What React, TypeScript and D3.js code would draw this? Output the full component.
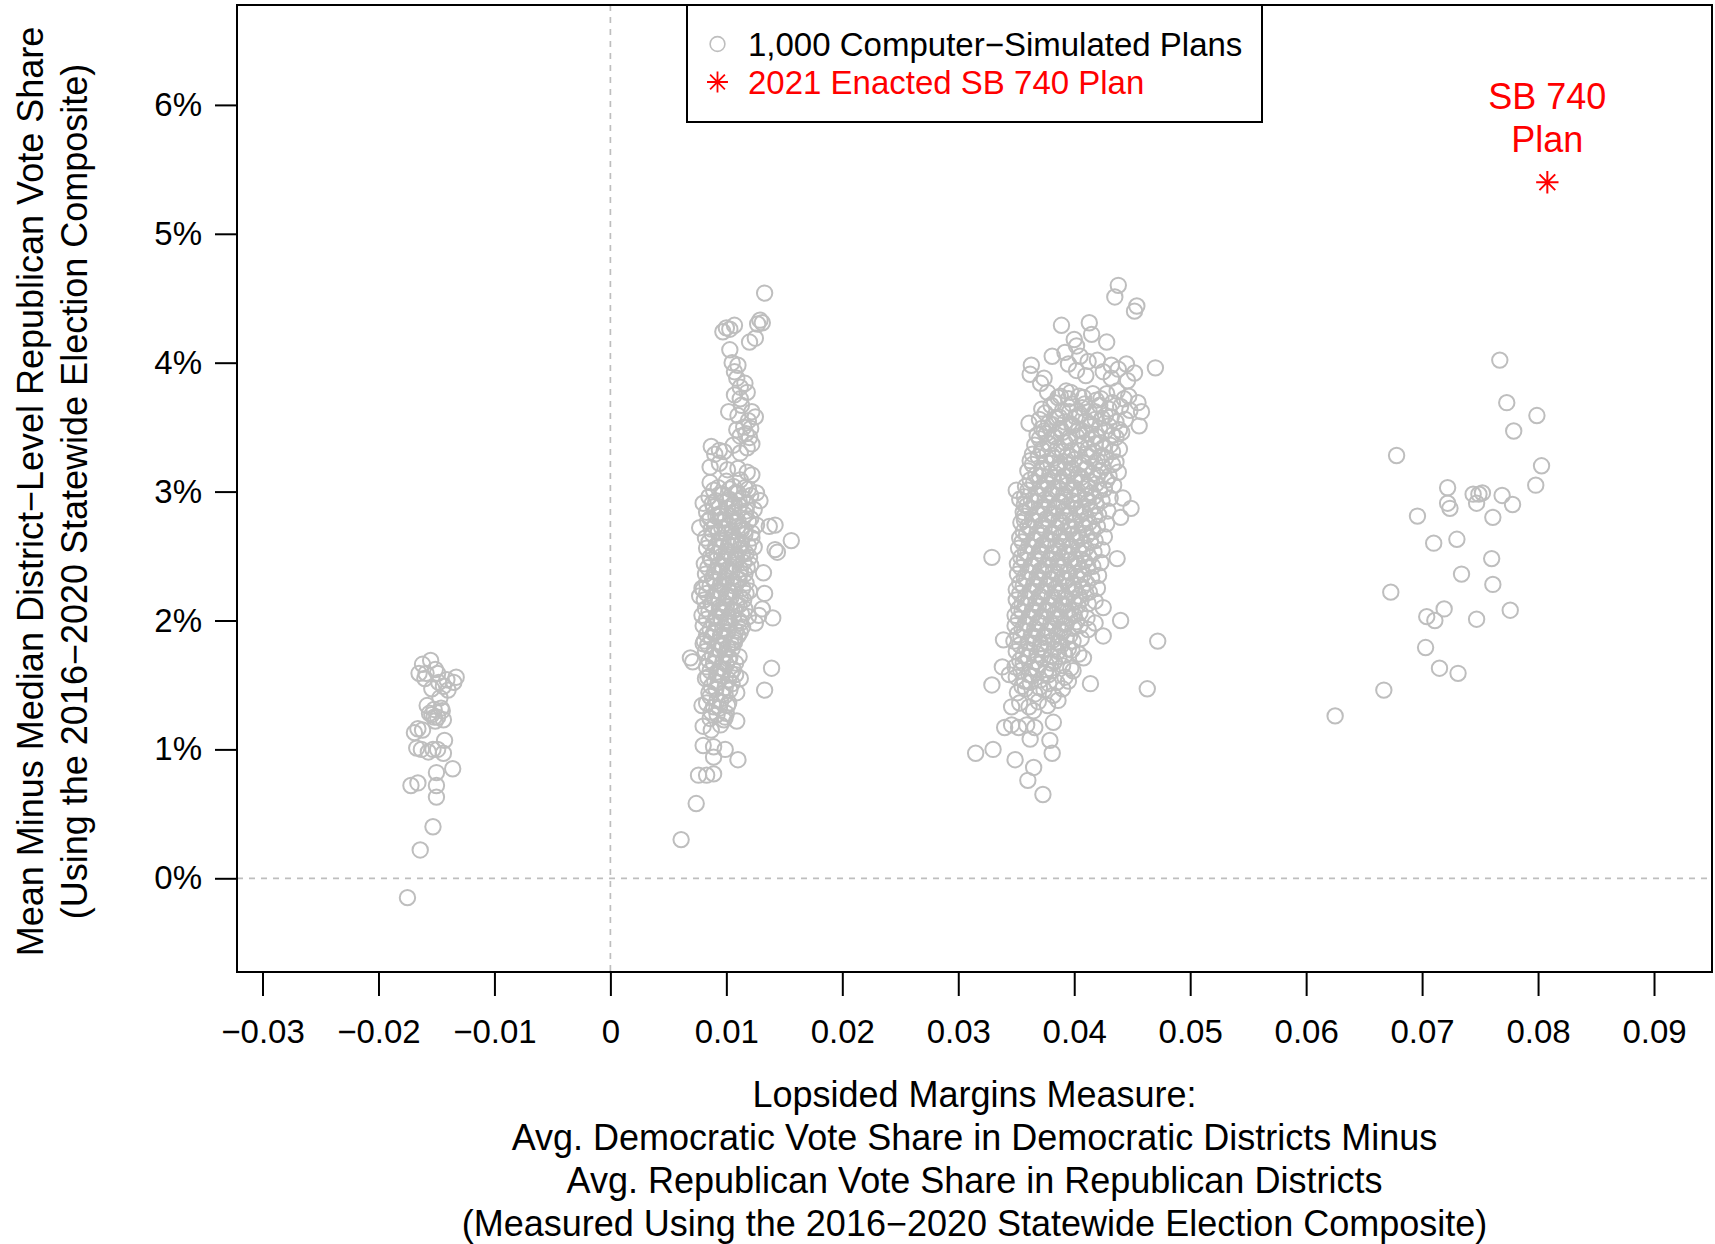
import { useEffect, useRef } from 'react';
import * as d3 from 'd3';

// x = lopsided margins measure, y = mean minus median (in %)
const plansNeg: [number, number][] = [
  [-0.0162, 1.66], [-0.0155, 1.69], [-0.0151, 1.62], [-0.0165, 1.59], [-0.0159, 1.59], [-0.0149, 1.59],
  [-0.0141, 1.54], [-0.0133, 1.56], [-0.0135, 1.52], [-0.0144, 1.49], [-0.0154, 1.47], [-0.0140, 1.46],
  [-0.0147, 1.40], [-0.0158, 1.34], [-0.0152, 1.31], [-0.0146, 1.32], [-0.0156, 1.28], [-0.0149, 1.25],
  [-0.0151, 1.22], [-0.0144, 1.23], [-0.0166, 1.16], [-0.0169, 1.13], [-0.0162, 1.15], [-0.0143, 1.07],
  [-0.0163, 1.00], [-0.0157, 0.98], [-0.0153, 1.00], [-0.0149, 1.00], [-0.0144, 0.97], [-0.0167, 1.01],
  [-0.0136, 0.85], [-0.0150, 0.82], [-0.0166, 0.74], [-0.0172, 0.72], [-0.0150, 0.72], [-0.0150, 0.63],
  [-0.0153, 0.40], [-0.0164, 0.22], [-0.0175, -0.15], [-0.0154, 1.27], [-0.0160, 1.55], [-0.0148, 1.52],
  [-0.0152, 1.25], [-0.0145, 1.30],
];

const plansLow: [number, number][] = [
  // upper tail
  [0.0133, 4.54], [0.0129, 4.33], [0.0131, 4.31], [0.0127, 4.30], [0.0125, 4.19], [0.0120, 4.16],
  [0.0100, 4.27], [0.0107, 4.29], [0.0097, 4.24], [0.0103, 4.26], [0.0103, 4.10], [0.0105, 4.00],
  [0.0110, 3.98], [0.0107, 3.93], [0.0109, 3.88], [0.0112, 3.81], [0.0116, 3.84], [0.0107, 3.75],
  [0.0112, 3.72], [0.0118, 3.77], [0.0113, 3.67], [0.0102, 3.62], [0.0122, 3.62], [0.0125, 3.58],
  [0.0110, 3.59], [0.0119, 3.55], [0.0109, 3.48], [0.0115, 3.50], [0.0121, 3.49], [0.0117, 3.45],
  [0.0112, 3.43], [0.0120, 3.42], [0.0087, 3.35], [0.0094, 3.32], [0.0090, 3.29], [0.0098, 3.31],
  [0.0106, 3.36], [0.0112, 3.30], [0.0118, 3.34], [0.0122, 3.37], [0.0086, 3.19], [0.0094, 3.22],
  [0.0101, 3.17], [0.0110, 3.18], [0.0118, 3.15], [0.0122, 3.13],
  // right and left strays
  [0.0126, 2.99], [0.0129, 2.93], [0.0142, 2.74], [0.0137, 2.73], [0.0156, 2.62], [0.0142, 2.55],
  [0.0144, 2.53], [0.0132, 2.37], [0.0133, 2.21], [0.0140, 2.02], [0.0131, 2.09], [0.0128, 2.04],
  [0.0125, 1.98], [0.0139, 1.63], [0.0133, 1.46], [0.0112, 1.55], [0.0080, 2.91], [0.0077, 2.72],
  [0.0077, 2.19], [0.0079, 2.25], [0.0080, 1.82], [0.0069, 1.71], [0.0071, 1.68], [0.0082, 1.55],
  [0.0079, 1.34], [0.0080, 1.18], [0.0080, 1.03],
  // lower tail
  [0.0109, 1.22], [0.0110, 0.92], [0.0087, 1.15], [0.0095, 1.19], [0.0099, 1.25], [0.0102, 1.36],
  [0.0109, 1.44], [0.0089, 1.02], [0.0099, 1.00], [0.0089, 0.94], [0.0076, 0.80], [0.0083, 0.80],
  [0.0089, 0.81], [0.0074, 0.58], [0.0061, 0.30],
  // core
  [0.0086, 3.07], [0.0093, 3.03], [0.0100, 3.08], [0.0106, 3.04], [0.0112, 3.09], [0.0119, 3.02],
  [0.0085, 2.96], [0.0091, 2.93], [0.0097, 2.98], [0.0103, 2.94], [0.0108, 2.99], [0.0114, 2.95], [0.0121, 2.97],
  [0.0083, 2.84], [0.0089, 2.88], [0.0095, 2.83], [0.0101, 2.87], [0.0106, 2.84], [0.0111, 2.89], [0.0117, 2.85], [0.0124, 2.86],
  [0.0084, 2.77], [0.0090, 2.73], [0.0096, 2.78], [0.0102, 2.74], [0.0107, 2.76], [0.0113, 2.72], [0.0119, 2.77], [0.0126, 2.74],
  [0.0082, 2.64], [0.0088, 2.67], [0.0094, 2.63], [0.0099, 2.68], [0.0105, 2.65], [0.0110, 2.62], [0.0116, 2.67], [0.0122, 2.64],
  [0.0083, 2.56], [0.0089, 2.53], [0.0095, 2.57], [0.0100, 2.54], [0.0106, 2.58], [0.0111, 2.55], [0.0117, 2.52], [0.0124, 2.57],
  [0.0081, 2.44], [0.0087, 2.47], [0.0093, 2.43], [0.0098, 2.46], [0.0104, 2.42], [0.0109, 2.48], [0.0115, 2.45], [0.0121, 2.43],
  [0.0082, 2.36], [0.0088, 2.33], [0.0094, 2.37], [0.0099, 2.34], [0.0105, 2.38], [0.0110, 2.32], [0.0116, 2.36],
  [0.0080, 2.24], [0.0086, 2.27], [0.0092, 2.23], [0.0097, 2.26], [0.0103, 2.22], [0.0108, 2.28], [0.0114, 2.25], [0.0120, 2.23],
  [0.0081, 2.16], [0.0087, 2.13], [0.0093, 2.17], [0.0098, 2.14], [0.0104, 2.18], [0.0109, 2.12], [0.0115, 2.16],
  [0.0079, 2.04], [0.0085, 2.07], [0.0091, 2.03], [0.0096, 2.06], [0.0102, 2.02], [0.0107, 2.08], [0.0113, 2.05], [0.0119, 2.03],
  [0.0080, 1.96], [0.0086, 1.93], [0.0092, 1.97], [0.0097, 1.94], [0.0103, 1.98], [0.0108, 1.92], [0.0114, 1.95],
  [0.0081, 1.84], [0.0087, 1.87], [0.0093, 1.83], [0.0098, 1.86], [0.0104, 1.82], [0.0110, 1.88],
  [0.0082, 1.76], [0.0088, 1.73], [0.0094, 1.77], [0.0099, 1.74], [0.0105, 1.78], [0.0111, 1.72],
  [0.0083, 1.64], [0.0089, 1.67], [0.0095, 1.63], [0.0100, 1.66], [0.0106, 1.62],
  [0.0084, 1.56], [0.0090, 1.53], [0.0096, 1.57], [0.0102, 1.54], [0.0108, 1.58],
  [0.0085, 1.44], [0.0091, 1.47], [0.0097, 1.43], [0.0103, 1.46],
  [0.0083, 1.36], [0.0089, 1.33], [0.0095, 1.37], [0.0101, 1.34],
  [0.0086, 1.24], [0.0092, 1.27], [0.0098, 1.23],
  [0.0091, 2.81], [0.0099, 2.71], [0.0104, 2.61], [0.0096, 2.50], [0.0102, 2.40], [0.0090, 2.30],
  [0.0100, 2.20], [0.0094, 2.10], [0.0101, 2.00], [0.0089, 1.90], [0.0096, 1.80], [0.0102, 1.70],
  [0.0092, 1.60], [0.0107, 2.90], [0.0113, 2.70], [0.0108, 2.50], [0.0112, 2.40], [0.0106, 2.30],
  [0.0111, 2.00], [0.0107, 1.85],
  // core, second pass
  [0.0089, 3.01], [0.0096, 2.98], [0.0103, 3.02], [0.0110, 2.99], [0.0116, 3.03],
  [0.0088, 2.91], [0.0094, 2.88], [0.0100, 2.92], [0.0105, 2.89], [0.0111, 2.93], [0.0118, 2.90],
  [0.0086, 2.79], [0.0093, 2.82], [0.0099, 2.78], [0.0104, 2.81], [0.0110, 2.77], [0.0116, 2.82], [0.0121, 2.79],
  [0.0087, 2.71], [0.0093, 2.68], [0.0096, 2.72], [0.0105, 2.69], [0.0110, 2.73], [0.0116, 2.70], [0.0122, 2.68],
  [0.0085, 2.61], [0.0091, 2.58], [0.0097, 2.62], [0.0102, 2.59], [0.0108, 2.63], [0.0113, 2.60], [0.0119, 2.58],
  [0.0086, 2.49], [0.0092, 2.52], [0.0098, 2.48], [0.0103, 2.51], [0.0109, 2.47], [0.0114, 2.52], [0.0120, 2.49],
  [0.0084, 2.41], [0.0090, 2.38], [0.0096, 2.42], [0.0101, 2.39], [0.0107, 2.43], [0.0112, 2.37], [0.0118, 2.41],
  [0.0083, 2.29], [0.0089, 2.32], [0.0095, 2.28], [0.0100, 2.31], [0.0106, 2.27], [0.0111, 2.32], [0.0117, 2.29],
  [0.0083, 2.21], [0.0089, 2.18], [0.0095, 2.22], [0.0101, 2.19], [0.0106, 2.23], [0.0112, 2.18], [0.0117, 2.21],
  [0.0082, 2.09], [0.0088, 2.12], [0.0094, 2.08], [0.0100, 2.11], [0.0105, 2.07], [0.0111, 2.12], [0.0116, 2.09],
  [0.0083, 2.01], [0.0089, 1.98], [0.0095, 2.02], [0.0100, 1.99], [0.0106, 2.03], [0.0112, 1.98],
  [0.0083, 1.89], [0.0090, 1.92], [0.0095, 1.88], [0.0101, 1.91], [0.0107, 1.87], [0.0112, 1.91],
  [0.0084, 1.81], [0.0090, 1.78], [0.0096, 1.82], [0.0101, 1.79], [0.0107, 1.83],
  [0.0085, 1.69], [0.0091, 1.72], [0.0097, 1.68], [0.0103, 1.71], [0.0108, 1.67],
  [0.0086, 1.61], [0.0092, 1.58], [0.0098, 1.62], [0.0104, 1.59],
  [0.0087, 1.49], [0.0093, 1.52], [0.0099, 1.48], [0.0105, 1.51],
  [0.0086, 1.41], [0.0092, 1.38], [0.0099, 1.42],
  [0.0087, 1.29], [0.0094, 1.32], [0.0100, 1.28],
];

const plansMid: [number, number][] = [
  // top and edges
  [0.0438, 4.60], [0.0435, 4.51], [0.0454, 4.44], [0.0452, 4.40], [0.0389, 4.29], [0.0413, 4.31],
  [0.0415, 4.22], [0.0400, 4.18], [0.0402, 4.13], [0.0428, 4.16], [0.0392, 4.08], [0.0405, 4.05],
  [0.0381, 4.05], [0.0363, 3.98], [0.0362, 3.91], [0.0371, 3.84], [0.0374, 3.88], [0.0470, 3.96],
  [0.0395, 3.99], [0.0412, 4.01], [0.0420, 4.02], [0.0432, 3.98], [0.0438, 3.95], [0.0445, 3.99],
  [0.0452, 3.92], [0.0446, 3.86], [0.0402, 3.94], [0.0410, 3.90], [0.0425, 3.93], [0.0432, 3.88],
  [0.0388, 3.74], [0.0397, 3.77], [0.0408, 3.73], [0.0428, 3.76], [0.0443, 3.72], [0.0455, 3.69],
  [0.0458, 3.62], [0.0361, 3.53], [0.0456, 3.51], [0.0385, 3.57], [0.0405, 3.60], [0.0418, 3.56],
  [0.0432, 3.58], [0.0448, 3.63], [0.0376, 3.45], [0.0388, 3.49], [0.0398, 3.52], [0.0350, 3.01],
  [0.0353, 2.94], [0.0357, 2.90], [0.0357, 2.78], [0.0449, 2.87], [0.0442, 2.95], [0.0440, 2.80],
  [0.0329, 2.49], [0.0437, 2.48], [0.0472, 1.84], [0.0463, 1.47], [0.0414, 1.51], [0.0440, 2.00],
  [0.0425, 2.10], [0.0418, 1.98], [0.0425, 1.88], [0.0408, 1.71], [0.0399, 1.61], [0.0395, 1.53],
  [0.0339, 1.85], [0.0329, 1.50], [0.0338, 1.64], [0.0344, 1.58], [0.0346, 1.33], [0.0365, 1.30],
  [0.0340, 1.17], [0.0346, 1.19], [0.0352, 1.17], [0.0359, 1.19], [0.0366, 1.17], [0.0315, 0.97],
  [0.0330, 1.00], [0.0349, 0.92], [0.0362, 1.08], [0.0382, 1.21], [0.0381, 0.97], [0.0379, 1.07],
  [0.0365, 0.86], [0.0360, 0.76], [0.0373, 0.65],
  // core
  [0.0377, 3.77], [0.0386, 3.73], [0.0393, 3.78], [0.0404, 3.74], [0.0416, 3.76], [0.0423, 3.72], [0.0437, 3.78], [0.0447, 3.74],
  [0.0372, 3.64], [0.0380, 3.67], [0.0390, 3.63], [0.0398, 3.68], [0.0407, 3.65], [0.0413, 3.62], [0.0422, 3.67], [0.0430, 3.64], [0.0440, 3.66],
  [0.0370, 3.56], [0.0378, 3.53], [0.0384, 3.57], [0.0392, 3.54], [0.0401, 3.58], [0.0410, 3.55], [0.0415, 3.52], [0.0424, 3.57], [0.0436, 3.54], [0.0444, 3.56],
  [0.0368, 3.44], [0.0374, 3.47], [0.0382, 3.43], [0.0390, 3.46], [0.0396, 3.42], [0.0404, 3.48], [0.0411, 3.45], [0.0419, 3.43], [0.0427, 3.47], [0.0433, 3.44], [0.0441, 3.46],
  [0.0366, 3.36], [0.0372, 3.33], [0.0379, 3.37], [0.0386, 3.34], [0.0392, 3.38], [0.0398, 3.32], [0.0405, 3.36], [0.0412, 3.33], [0.0418, 3.37], [0.0425, 3.34], [0.0431, 3.36], [0.0439, 3.33],
  [0.0362, 3.24], [0.0369, 3.27], [0.0376, 3.23], [0.0383, 3.26], [0.0388, 3.22], [0.0394, 3.28], [0.0400, 3.25], [0.0407, 3.23], [0.0413, 3.27], [0.0420, 3.24], [0.0427, 3.26], [0.0436, 3.23],
  [0.0360, 3.16], [0.0367, 3.13], [0.0373, 3.17], [0.0379, 3.14], [0.0385, 3.18], [0.0391, 3.12], [0.0397, 3.16], [0.0403, 3.13], [0.0409, 3.17], [0.0416, 3.14], [0.0423, 3.16], [0.0430, 3.12], [0.0438, 3.15],
  [0.0358, 3.04], [0.0365, 3.07], [0.0371, 3.03], [0.0377, 3.06], [0.0383, 3.02], [0.0389, 3.08], [0.0394, 3.05], [0.0400, 3.03], [0.0406, 3.07], [0.0412, 3.04], [0.0419, 3.06], [0.0426, 3.02], [0.0434, 3.05],
  [0.0357, 2.96], [0.0363, 2.93], [0.0369, 2.97], [0.0375, 2.94], [0.0381, 2.98], [0.0387, 2.92], [0.0392, 2.96], [0.0398, 2.93], [0.0404, 2.97], [0.0410, 2.94], [0.0417, 2.96], [0.0424, 2.93], [0.0431, 2.95],
  [0.0356, 2.84], [0.0362, 2.87], [0.0368, 2.83], [0.0374, 2.86], [0.0380, 2.82], [0.0385, 2.88], [0.0391, 2.85], [0.0396, 2.83], [0.0402, 2.87], [0.0408, 2.84], [0.0414, 2.86], [0.0421, 2.82], [0.0429, 2.85],
  [0.0354, 2.76], [0.0360, 2.73], [0.0366, 2.77], [0.0372, 2.74], [0.0378, 2.78], [0.0384, 2.72], [0.0389, 2.76], [0.0395, 2.73], [0.0401, 2.77], [0.0407, 2.74], [0.0413, 2.76], [0.0420, 2.73], [0.0428, 2.75],
  [0.0353, 2.64], [0.0359, 2.67], [0.0365, 2.63], [0.0371, 2.66], [0.0377, 2.62], [0.0382, 2.68], [0.0388, 2.65], [0.0393, 2.63], [0.0399, 2.67], [0.0405, 2.64], [0.0411, 2.66], [0.0418, 2.62], [0.0426, 2.65],
  [0.0352, 2.56], [0.0358, 2.53], [0.0364, 2.57], [0.0370, 2.54], [0.0376, 2.58], [0.0381, 2.52], [0.0387, 2.56], [0.0392, 2.53], [0.0398, 2.57], [0.0404, 2.54], [0.0410, 2.56], [0.0417, 2.53], [0.0424, 2.55],
  [0.0351, 2.44], [0.0357, 2.47], [0.0363, 2.43], [0.0369, 2.46], [0.0375, 2.42], [0.0380, 2.48], [0.0386, 2.45], [0.0391, 2.43], [0.0397, 2.47], [0.0403, 2.44], [0.0409, 2.46], [0.0416, 2.42], [0.0423, 2.45],
  [0.0351, 2.36], [0.0357, 2.33], [0.0362, 2.37], [0.0368, 2.34], [0.0374, 2.38], [0.0379, 2.32], [0.0385, 2.36], [0.0390, 2.33], [0.0396, 2.37], [0.0402, 2.34], [0.0408, 2.36], [0.0415, 2.33], [0.0421, 2.35],
  [0.0350, 2.24], [0.0356, 2.27], [0.0362, 2.23], [0.0367, 2.26], [0.0373, 2.22], [0.0378, 2.28], [0.0384, 2.25], [0.0389, 2.23], [0.0395, 2.27], [0.0401, 2.24], [0.0407, 2.26], [0.0413, 2.22], [0.0420, 2.25],
  [0.0350, 2.16], [0.0355, 2.13], [0.0361, 2.17], [0.0367, 2.14], [0.0372, 2.18], [0.0378, 2.12], [0.0383, 2.16], [0.0389, 2.13], [0.0394, 2.17], [0.0400, 2.14], [0.0406, 2.16], [0.0412, 2.13], [0.0418, 2.15],
  [0.0349, 2.04], [0.0355, 2.07], [0.0361, 2.03], [0.0366, 2.06], [0.0372, 2.02], [0.0377, 2.08], [0.0383, 2.05], [0.0388, 2.03], [0.0394, 2.07], [0.0400, 2.04], [0.0405, 2.06], [0.0411, 2.02],
  [0.0349, 1.96], [0.0355, 1.93], [0.0360, 1.97], [0.0366, 1.94], [0.0371, 1.98], [0.0377, 1.92], [0.0382, 1.96], [0.0388, 1.93], [0.0393, 1.97], [0.0399, 1.94], [0.0405, 1.96], [0.0412, 1.93],
  [0.0348, 1.84], [0.0354, 1.87], [0.0360, 1.83], [0.0365, 1.86], [0.0371, 1.82], [0.0376, 1.88], [0.0382, 1.85], [0.0387, 1.83], [0.0393, 1.87], [0.0399, 1.84], [0.0406, 1.86],
  [0.0350, 1.76], [0.0356, 1.73], [0.0362, 1.77], [0.0368, 1.74], [0.0374, 1.78], [0.0380, 1.72], [0.0386, 1.76], [0.0392, 1.73], [0.0398, 1.77], [0.0404, 1.74],
  [0.0349, 1.64], [0.0356, 1.67], [0.0363, 1.63], [0.0370, 1.66], [0.0376, 1.62], [0.0383, 1.68], [0.0390, 1.65], [0.0397, 1.63],
  [0.0350, 1.56], [0.0357, 1.53], [0.0364, 1.57], [0.0371, 1.54], [0.0378, 1.58], [0.0385, 1.52], [0.0392, 1.56],
  [0.0351, 1.44], [0.0358, 1.47], [0.0366, 1.43], [0.0374, 1.46], [0.0382, 1.42], [0.0390, 1.47],
  [0.0353, 1.36], [0.0361, 1.33], [0.0369, 1.37], [0.0377, 1.34], [0.0386, 1.38],
  // core, second pass
  [0.0383, 3.69], [0.0395, 3.72], [0.0409, 3.68], [0.0419, 3.71], [0.0433, 3.69],
  [0.0375, 3.61], [0.0387, 3.58], [0.0396, 3.62], [0.0404, 3.59], [0.0418, 3.62], [0.0427, 3.59],
  [0.0372, 3.49], [0.0381, 3.52], [0.0388, 3.48], [0.0399, 3.51], [0.0407, 3.47], [0.0414, 3.52], [0.0422, 3.49], [0.0430, 3.51], [0.0439, 3.48],
  [0.0370, 3.41], [0.0377, 3.38], [0.0384, 3.42], [0.0395, 3.39], [0.0402, 3.43], [0.0409, 3.38], [0.0416, 3.41], [0.0423, 3.38], [0.0436, 3.42],
  [0.0364, 3.29], [0.0373, 3.32], [0.0381, 3.28], [0.0390, 3.31], [0.0397, 3.27], [0.0403, 3.32], [0.0410, 3.29], [0.0417, 3.31], [0.0424, 3.28], [0.0433, 3.31],
  [0.0364, 3.21], [0.0372, 3.18], [0.0380, 3.22], [0.0386, 3.19], [0.0392, 3.23], [0.0398, 3.18], [0.0405, 3.21], [0.0411, 3.18], [0.0418, 3.22], [0.0425, 3.19], [0.0433, 3.21],
  [0.0362, 3.09], [0.0370, 3.12], [0.0376, 3.08], [0.0382, 3.11], [0.0388, 3.07], [0.0394, 3.12], [0.0400, 3.09], [0.0406, 3.11], [0.0413, 3.08], [0.0420, 3.12], [0.0428, 3.09],
  [0.0360, 3.01], [0.0367, 2.98], [0.0374, 3.02], [0.0380, 2.99], [0.0386, 3.03], [0.0391, 2.98], [0.0397, 3.01], [0.0403, 2.98], [0.0409, 3.02], [0.0415, 2.99], [0.0422, 3.01],
  [0.0359, 2.89], [0.0366, 2.92], [0.0372, 2.88], [0.0378, 2.91], [0.0383, 2.87], [0.0389, 2.92], [0.0394, 2.89], [0.0400, 2.91], [0.0406, 2.88], [0.0412, 2.92], [0.0419, 2.89],
  [0.0357, 2.81], [0.0364, 2.78], [0.0370, 2.82], [0.0376, 2.79], [0.0382, 2.83], [0.0387, 2.78], [0.0393, 2.81], [0.0399, 2.78], [0.0405, 2.82], [0.0411, 2.79], [0.0418, 2.81],
  [0.0356, 2.69], [0.0362, 2.72], [0.0368, 2.68], [0.0374, 2.71], [0.0380, 2.67], [0.0385, 2.72], [0.0391, 2.69], [0.0397, 2.71], [0.0403, 2.68], [0.0409, 2.72], [0.0416, 2.69],
  [0.0355, 2.61], [0.0361, 2.58], [0.0367, 2.62], [0.0373, 2.59], [0.0379, 2.63], [0.0384, 2.58], [0.0390, 2.61], [0.0396, 2.58], [0.0402, 2.62], [0.0408, 2.59], [0.0414, 2.61],
  [0.0354, 2.49], [0.0360, 2.52], [0.0366, 2.48], [0.0372, 2.51], [0.0378, 2.47], [0.0383, 2.52], [0.0389, 2.49], [0.0395, 2.51], [0.0401, 2.48], [0.0407, 2.52], [0.0413, 2.49],
  [0.0354, 2.41], [0.0360, 2.38], [0.0365, 2.42], [0.0371, 2.39], [0.0377, 2.43], [0.0382, 2.38], [0.0388, 2.41], [0.0394, 2.38], [0.0400, 2.42], [0.0406, 2.39], [0.0412, 2.41],
  [0.0353, 2.29], [0.0359, 2.32], [0.0365, 2.28], [0.0370, 2.31], [0.0376, 2.27], [0.0381, 2.32], [0.0387, 2.29], [0.0393, 2.31], [0.0399, 2.28], [0.0405, 2.32], [0.0411, 2.29],
  [0.0353, 2.21], [0.0358, 2.18], [0.0364, 2.22], [0.0370, 2.19], [0.0375, 2.23], [0.0381, 2.18], [0.0386, 2.21], [0.0392, 2.18], [0.0398, 2.22], [0.0404, 2.19], [0.0410, 2.21],
  [0.0352, 2.09], [0.0358, 2.12], [0.0364, 2.08], [0.0369, 2.11], [0.0375, 2.07], [0.0380, 2.12], [0.0386, 2.09], [0.0391, 2.11], [0.0397, 2.08], [0.0403, 2.12],
  [0.0352, 2.01], [0.0358, 1.98], [0.0363, 2.02], [0.0369, 1.99], [0.0374, 2.03], [0.0380, 1.98], [0.0385, 2.01], [0.0391, 1.98], [0.0396, 2.02], [0.0402, 1.99],
  [0.0351, 1.89], [0.0357, 1.92], [0.0363, 1.88], [0.0368, 1.91], [0.0374, 1.87], [0.0379, 1.92], [0.0385, 1.89], [0.0390, 1.91], [0.0396, 1.88],
  [0.0353, 1.81], [0.0359, 1.78], [0.0365, 1.82], [0.0371, 1.79], [0.0377, 1.83], [0.0383, 1.78], [0.0389, 1.81], [0.0395, 1.78],
  [0.0353, 1.69], [0.0360, 1.72], [0.0366, 1.68], [0.0373, 1.71], [0.0380, 1.67], [0.0387, 1.72],
  [0.0354, 1.61], [0.0361, 1.58], [0.0368, 1.62], [0.0375, 1.59], [0.0381, 1.61],
  [0.0355, 1.49], [0.0362, 1.52], [0.0370, 1.48], [0.0378, 1.51],
];

const plansHigh: [number, number][] = [
  [0.0767, 4.02], [0.0773, 3.69], [0.0799, 3.59], [0.0779, 3.47], [0.0678, 3.28], [0.0803, 3.20],
  [0.0798, 3.05], [0.0722, 3.03], [0.0722, 2.91], [0.0724, 2.87], [0.0744, 2.98], [0.0749, 2.98],
  [0.0752, 2.99], [0.0747, 2.91], [0.0769, 2.97], [0.0778, 2.90], [0.0761, 2.80], [0.0696, 2.81],
  [0.0710, 2.60], [0.0730, 2.63], [0.0760, 2.48], [0.0734, 2.36], [0.0761, 2.28], [0.0673, 2.22],
  [0.0719, 2.09], [0.0704, 2.03], [0.0711, 2.00], [0.0747, 2.01], [0.0776, 2.08], [0.0703, 1.79],
  [0.0715, 1.63], [0.0731, 1.59], [0.0667, 1.46], [0.0625, 1.26],
];

const enactedPlan: [number, number] = [0.0808, 5.40];

const xTicks = [-0.03, -0.02, -0.01, 0, 0.01, 0.02, 0.03, 0.04, 0.05, 0.06, 0.07, 0.08, 0.09];
const xTickLabels = ['\u22120.03', '\u22120.02', '\u22120.01', '0', '0.01', '0.02', '0.03', '0.04', '0.05', '0.06', '0.07', '0.08', '0.09'];
const yTicks = [0, 1, 2, 3, 4, 5, 6];
const yTickLabels = ['0%', '1%', '2%', '3%', '4%', '5%', '6%'];
const legendLabels = ['1,000 Computer\u2212Simulated Plans', '2021 Enacted SB 740 Plan'];
const xTitleLines = [
  'Lopsided Margins Measure:',
  'Avg. Democratic Vote Share in Democratic Districts Minus',
  'Avg. Republican Vote Share in Republican Districts',
  '(Measured Using the 2016\u22122020 Statewide Election Composite)',
];
const yTitleLines = [
  'Mean Minus Median District\u2212Level Republican Vote Share',
  '(Using the 2016\u22122020 Statewide Election Composite)',
];
const planLabelLines = ['SB 740', 'Plan'];

const FONT = '"Liberation Sans", Arial, Helvetica, sans-serif';
const GREY = '#bebebe';
const RED = '#ff0000';

// R's pch = 8 asterisk
function asteriskPath(cx: number, cy: number, xc: number) {
  const d = Math.SQRT2 * xc;
  return `M${cx - xc},${cy - xc}L${cx + xc},${cy + xc}M${cx - xc},${cy + xc}L${cx + xc},${cy - xc}` +
    `M${cx - d},${cy}L${cx + d},${cy}M${cx},${cy - d}L${cx},${cy + d}`;
}

export default function App() {
  const svgRef = useRef<SVGSVGElement>(null);

  useEffect(() => {
    if (!svgRef.current) return;
    const svg = d3.select(svgRef.current);
    svg.selectAll('*').remove();

    const left = 237, right = 1712, top = 5, bottom = 972;
    const x = d3.scaleLinear().domain([-0.0322, 0.0950]).range([left, right]);
    const y = d3.scaleLinear().domain([-0.727, 6.775]).range([bottom, top]);

    svg.append('rect').attr('width', 1715).attr('height', 1244).attr('fill', '#fff');

    // reference lines
    svg.append('line')
      .attr('x1', x(0)).attr('x2', x(0)).attr('y1', top).attr('y2', bottom)
      .attr('stroke', GREY).attr('stroke-width', 1.7).attr('stroke-dasharray', '6,6');
    svg.append('line')
      .attr('x1', left).attr('x2', right).attr('y1', y(0)).attr('y2', y(0))
      .attr('stroke', GREY).attr('stroke-width', 1.7).attr('stroke-dasharray', '6,6');

    // simulated plans
    const allPlans = [...plansNeg, ...plansLow, ...plansMid, ...plansHigh];
    svg.append('g')
      .selectAll('circle')
      .data(allPlans)
      .join('circle')
      .attr('cx', d => x(d[0]))
      .attr('cy', d => y(d[1]))
      .attr('r', 7.7)
      .attr('fill', 'none')
      .attr('stroke', GREY)
      .attr('stroke-width', 2);

    // enacted plan
    svg.append('path')
      .attr('d', asteriskPath(x(enactedPlan[0]), y(enactedPlan[1]), 7.9))
      .attr('stroke', RED).attr('stroke-width', 2).attr('fill', 'none');

    svg.append('g')
      .selectAll('text')
      .data(planLabelLines)
      .join('text')
      .attr('x', x(enactedPlan[0]))
      .attr('y', (_, i) => 109 + i * 43)
      .attr('text-anchor', 'middle')
      .attr('font-family', FONT)
      .attr('font-size', 36)
      .attr('fill', RED)
      .text(d => d);

    // plot frame
    svg.append('rect')
      .attr('x', left).attr('y', top).attr('width', right - left).attr('height', bottom - top)
      .attr('fill', 'none').attr('stroke', '#000').attr('stroke-width', 2);

    // axes
    const xAxis = svg.append('g')
      .attr('transform', `translate(0,${bottom})`)
      .call(d3.axisBottom(x).tickValues(xTicks).tickFormat((_, i) => xTickLabels[i]).tickSize(24).tickPadding(24));
    xAxis.select('.domain').remove();
    xAxis.selectAll('line').attr('stroke-width', 2);
    xAxis.selectAll('text').attr('font-family', FONT).attr('font-size', 33).attr('fill', '#000');

    const yAxis = svg.append('g')
      .attr('transform', `translate(${left},0)`)
      .call(d3.axisLeft(y).tickValues(yTicks).tickFormat((_, i) => yTickLabels[i]).tickSize(22).tickPadding(13));
    yAxis.select('.domain').remove();
    yAxis.selectAll('line').attr('stroke-width', 2);
    yAxis.selectAll('text').attr('font-family', FONT).attr('font-size', 33).attr('fill', '#000');

    // axis titles
    svg.append('g')
      .selectAll('text')
      .data(xTitleLines)
      .join('text')
      .attr('x', (left + right) / 2)
      .attr('y', (_, i) => 1107 + i * 43)
      .attr('text-anchor', 'middle')
      .attr('font-family', FONT)
      .attr('font-size', 36)
      .text(d => d);

    svg.append('g')
      .selectAll('text')
      .data(yTitleLines)
      .join('text')
      .attr('transform', (_, i) => `translate(${43 + i * 43.8},${(top + bottom) / 2 + 3}) rotate(-90)`)
      .attr('text-anchor', 'middle')
      .attr('font-family', FONT)
      .attr('font-size', 36)
      .text(d => d);

    // legend
    const legend = svg.append('g');
    legend.append('rect')
      .attr('x', 687).attr('y', top).attr('width', 575).attr('height', 117)
      .attr('fill', '#fff').attr('stroke', '#000').attr('stroke-width', 2);
    legend.append('circle')
      .attr('cx', 717.5).attr('cy', 44).attr('r', 7.4)
      .attr('fill', 'none').attr('stroke', GREY).attr('stroke-width', 1.6);
    legend.append('path')
      .attr('d', asteriskPath(717.5, 82, 7.4))
      .attr('stroke', RED).attr('stroke-width', 1.8).attr('fill', 'none');
    legend.selectAll('text.lab')
      .data(legendLabels)
      .join('text')
      .attr('class', 'lab')
      .attr('x', 748)
      .attr('y', (_, i) => 56 + i * 38)
      .attr('font-family', FONT)
      .attr('font-size', 33)
      .attr('fill', (_, i) => (i === 0 ? '#000' : RED))
      .text(d => d);
  }, []);

  return (
    <div style={{ position: 'absolute', left: 0, top: 0 }}>
      <svg ref={svgRef} width={1715} height={1244} viewBox="0 0 1715 1244" />
    </div>
  );
}
